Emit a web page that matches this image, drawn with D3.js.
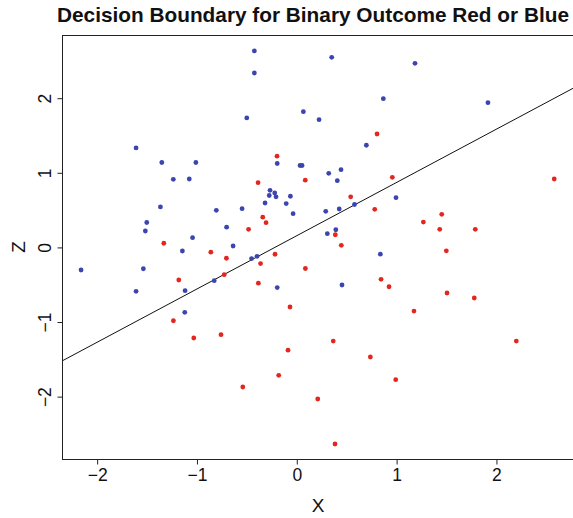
<!DOCTYPE html>
<html>
<head>
<meta charset="utf-8">
<script src="https://cdn.jsdelivr.net/npm/d3@7"></script>
<style>
  body { margin: 0; background: #fff; }
  svg { display: block; font-family: "Liberation Sans", Arial, Helvetica, sans-serif; }
</style>
</head>
<body>
<div id="chart"></div>
<script>
// Points, class "blue"
const blueX = [-0.425, -0.425, -0.501, -1.610, -1.352, -1.011, -0.196, 0.033, 0.053, -1.237,
  -1.077, -0.268, -0.276, -0.221, -0.208, -0.064, -0.318, -0.106, -0.037, -1.366,
  -0.806, -0.548, -1.503, -1.517, -0.703, -1.044, -0.638, -1.146, -0.453, -0.398,
  -2.161, -1.537, -1.610, -1.119, -0.827, -0.196, -1.122, 0.350, 1.184, 0.867,
  1.915, 0.066, 0.223, 0.697, 0.320, 0.443, 0.406, 0.290, 0.425, 0.578,
  0.994, 0.306, 0.391, 0.837, 0.453];
const blueZ = [2.633, 2.338, 1.735, 1.333, 1.138, 1.138, 1.125, 1.098, 1.098, 0.913,
  0.917, 0.765, 0.696, 0.729, 0.678, 0.686, 0.595, 0.588, 0.452, 0.542,
  0.497, 0.519, 0.334, 0.220, 0.271, 0.130, 0.019, -0.048, -0.149, -0.119,
  -0.303, -0.286, -0.588, -0.580, -0.446, -0.538, -0.870, 2.548, 2.468, 1.993,
  1.940, 1.819, 1.712, 1.369, 0.993, 1.042, 0.894, 0.484, 0.515, 0.575,
  0.666, 0.184, 0.237, -0.091, -0.504];

// Points, class "red"
const redX = [-0.198, -0.388, -0.341, -0.308, -0.483, -1.332, -0.861, -0.705, -0.218, -0.363,
  -1.182, -0.727, -0.385, -0.068, -1.236, -1.032, -0.759, -0.088, -0.181, -0.541,
  0.804, 0.085, 0.957, 2.579, 0.540, 0.781, 1.452, 1.268, 1.432, 1.788,
  0.386, 0.446, 1.498, 0.086, 0.844, 0.924, 1.505, 1.778, 1.174, 0.365,
  2.199, 0.737, 0.991, 0.210, 0.383];
const redZ = [1.223, 0.867, 0.405, 0.331, 0.243, 0.056, -0.064, -0.145, -0.092, -0.216,
  -0.437, -0.366, -0.480, -0.799, -0.983, -1.214, -1.170, -1.378, -1.714, -1.871,
  1.520, 0.901, 0.940, 0.917, 0.678, 0.511, 0.444, 0.340, 0.243, 0.243,
  0.170, 0.028, -0.046, -0.283, -0.428, -0.527, -0.611, -0.678, -0.853, -1.255,
  -1.255, -1.469, -1.773, -2.032, -2.635];

// decision boundary z = intercept + slope * x
const boundaryIntercept = 0.157;
const boundarySlope = 0.714;

const xTicks = [-2, -1, 0, 1, 2];
const zTicks = [-2, -1, 0, 1, 2];

const width = 573, height = 518;
const plot = { left: 62, right: 575, top: 35, bottom: 459 };

const svg = d3.select('#chart').append('svg')
  .attr('width', width)
  .attr('height', height);

const x = d3.scaleLinear().domain([-2.352, 2.787]).range([plot.left, plot.right]);
const y = d3.scaleLinear().domain([-2.836, 2.847]).range([plot.bottom, plot.top]);

// title
svg.append('text')
  .attr('x', 313)
  .attr('y', 22)
  .attr('text-anchor', 'middle')
  .attr('font-weight', 'bold')
  .attr('font-size', 20.8)
  .attr('fill', '#111')
  .text('Decision Boundary for Binary Outcome Red or Blue');

// clip for line and points
svg.append('clipPath').attr('id', 'clip')
  .append('rect')
  .attr('x', plot.left).attr('y', plot.top)
  .attr('width', plot.right - plot.left).attr('height', plot.bottom - plot.top);

// decision boundary
const [x0, x1] = x.domain();
svg.append('line')
  .attr('clip-path', 'url(#clip)')
  .attr('x1', x(x0)).attr('y1', y(boundaryIntercept + boundarySlope * x0))
  .attr('x2', x(x1)).attr('y2', y(boundaryIntercept + boundarySlope * x1))
  .attr('stroke', '#111')
  .attr('stroke-width', 1);

// points
const pts = svg.append('g').attr('clip-path', 'url(#clip)');
pts.selectAll('circle.blue')
  .data(d3.zip(blueX, blueZ))
  .enter().append('circle')
  .attr('class', 'blue')
  .attr('cx', d => x(d[0]))
  .attr('cy', d => y(d[1]))
  .attr('r', 2.4)
  .attr('fill', '#3a45b0');
pts.selectAll('circle.red')
  .data(d3.zip(redX, redZ))
  .enter().append('circle')
  .attr('class', 'red')
  .attr('cx', d => x(d[0]))
  .attr('cy', d => y(d[1]))
  .attr('r', 2.4)
  .attr('fill', '#e3261f');

// box
svg.append('rect')
  .attr('x', plot.left + 0.5).attr('y', plot.top + 0.5)
  .attr('width', plot.right - plot.left).attr('height', plot.bottom - plot.top)
  .attr('fill', 'none')
  .attr('stroke', '#222')
  .attr('stroke-width', 1);

const fmt = d3.format('d');

// axes
const xAxis = svg.append('g')
  .attr('transform', `translate(0,${plot.bottom + 0.5})`)
  .call(d3.axisBottom(x).tickValues(xTicks).tickFormat(fmt).tickSize(5).tickPadding(4).tickSizeOuter(0));
xAxis.select('.domain')
  .attr('d', `M${x(xTicks[0])},0H${x(xTicks[xTicks.length - 1])}`)
  .attr('stroke', '#222');
xAxis.selectAll('.tick line').attr('stroke', '#222');
xAxis.selectAll('.tick text')
  .attr('font-size', 17.5)
  .attr('fill', '#111')
  .attr('font-family', '"Liberation Sans", Arial, sans-serif');

const yAxis = svg.append('g')
  .attr('transform', `translate(${plot.left + 0.5},0)`)
  .call(d3.axisLeft(y).tickValues(zTicks).tickFormat(fmt).tickSize(5).tickSizeOuter(0));
yAxis.select('.domain')
  .attr('d', `M0,${y(zTicks[0])}V${y(zTicks[zTicks.length - 1])}`)
  .attr('stroke', '#222');
yAxis.selectAll('.tick line').attr('stroke', '#222');
yAxis.selectAll('.tick text')
  .attr('font-size', 17.5)
  .attr('fill', '#111')
  .attr('font-family', '"Liberation Sans", Arial, sans-serif')
  .attr('text-anchor', 'middle')
  .attr('dy', 0)
  .attr('x', 0)
  .attr('transform', 'translate(-12,0) rotate(-90)');

// axis titles
svg.append('text')
  .attr('x', 318)
  .attr('y', 512)
  .attr('text-anchor', 'middle')
  .attr('font-size', 19)
  .attr('fill', '#111')
  .text('X');

svg.append('text')
  .attr('transform', 'translate(25,247) rotate(-90)')
  .attr('text-anchor', 'middle')
  .attr('font-size', 19)
  .attr('fill', '#111')
  .text('Z');
</script>
</body>
</html>
